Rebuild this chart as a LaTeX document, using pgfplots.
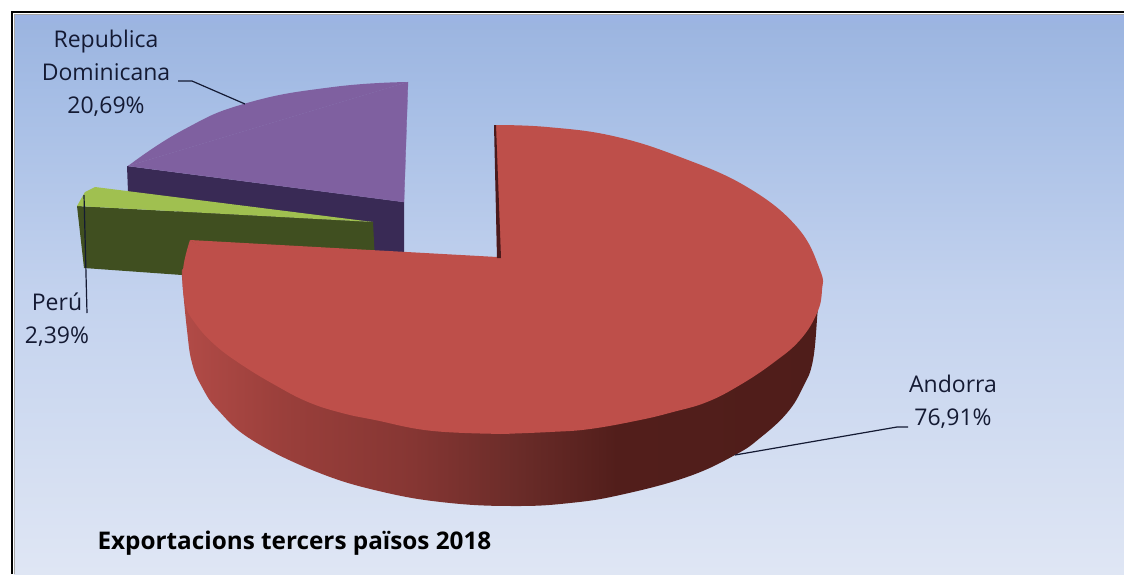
\documentclass[border=0pt]{standalone}
\usepackage{pgfplots}
\pgfplotsset{compat=1.18}
\usepackage{fontspec}
\setmainfont{Open Sans}

\definecolor{inktext}{HTML}{141A33}
\definecolor{redtop}{HTML}{BE4F4A}
\definecolor{redinner}{HTML}{4A1A1C}
\definecolor{purpletop}{HTML}{7F60A0}
\definecolor{purpleside}{HTML}{392A55}
\definecolor{greentop}{HTML}{A0C050}
\definecolor{greenside}{HTML}{404F20}

% the shading box is fitted to the path so stops run 25..75
\pgfdeclareverticalshading{panelbg}{100bp}{
  rgb(0bp)=(0.875,0.902,0.957);
  rgb(25bp)=(0.875,0.902,0.957);
  rgb(50bp)=(0.765,0.824,0.933);
  rgb(68bp)=(0.647,0.741,0.898);
  rgb(74bp)=(0.612,0.710,0.878);
  rgb(75bp)=(0.612,0.702,0.902);
  rgb(100bp)=(0.612,0.702,0.902)}
\pgfdeclarehorizontalshading{redwall}{100bp}{
  rgb(0bp)=(0.698,0.294,0.278);
  rgb(25bp)=(0.698,0.294,0.278);
  rgb(33bp)=(0.604,0.247,0.231);
  rgb(43bp)=(0.525,0.212,0.200);
  rgb(51bp)=(0.420,0.173,0.161);
  rgb(59bp)=(0.322,0.118,0.106);
  rgb(75bp)=(0.310,0.114,0.102);
  rgb(100bp)=(0.310,0.114,0.102)}

\begin{document}
\begin{tikzpicture}
\begin{axis}[
    scale only axis,
    width=1124pt, height=574pt,
    xmin=0, xmax=1124,
    ymin=0, ymax=574,
    y dir=reverse,
    hide axis,
    clip=true
]
% page
\addplot[fill=white, draw=none] coordinates {(0,0)(1124,0)(1124,574)(0,574)} --cycle;
% panel
\addplot[shade, shading=panelbg, draw=none] coordinates {(14,14)(1124,14)(1124,574)(14,574)} --cycle;
\addplot[draw=black, line width=1.6pt] coordinates {(12,574)(12,12)(1124,12)};
\addplot[draw=gray!70, line width=1.2pt] coordinates {(14.5,574)(14.5,14.5)(1124,14.5)};

% Republica Dominicana
\addplot[fill=purpleside, draw=none] coordinates {(127,166)(404,202)(404,252)(300,260)(128,192)} --cycle;
\addplot[fill=purpletop, draw=purpletop, line width=0.3pt] coordinates {(408,82)(128,166)(404,202)} --cycle;
\addplot[fill=purpletop, draw=none, smooth, tension=0.8] coordinates {(408,82)(333,87)(247,103)(183,130)(128,166)};

% Peru
\addplot[fill=greenside, draw=none] coordinates {(77,206)(373,222)(375,262)(182,275)(84,268)} --cycle;
\addplot[fill=greentop, draw=none] coordinates {(95,187)(85,192)(77,206)(373,222)} --cycle;

% Andorra, wall
\addplot[shade, shading=redwall, draw=none, smooth, tension=0.7] coordinates {
  (183,270)(182,277)(187,330)(192,363)(202,387)(218,410)(252,440)(317,472)(383,492)(450,503)(517,506)
  (570,503)(620,495)(687,477)(735,455)(760,438)(787,413)(803,387)(813,360)(818,308)(821,290)};
% Andorra, top
\addplot[fill=redtop, draw=none, smooth, tension=0.7] coordinates {
  (495,125)(547,127)(613,136)(680,157)(747,187)(797,227)(820,270)(822,290)(817,313)(800,340)
  (773,363)(740,385)(707,402)(673,412)(640,420)(590,429)(550,432)(500,434)};
\addplot[fill=redtop, draw=none, smooth, tension=0.7] coordinates {
  (510,434)(433,431)(375,420)(342,413)(308,402)(275,385)(242,365)(215,345)(195,323)(185,303)(183,270)(190,240)};
\addplot[fill=redtop, draw=none] coordinates {(190,240)(497,257)(497,200)(530,200)(530,430)(480,430)} --cycle;
% Andorra, notch wall
\addplot[fill=redinner, draw=none] coordinates {(494,125)(497,258)(501,258)(496,125)} --cycle;

% leader lines
\addplot[draw=inktext, line width=1.2pt] coordinates {(178,81)(192,81)(245,104)};
\addplot[draw=inktext, line width=1.2pt] coordinates {(84,195)(87,313)};
\addplot[draw=inktext, line width=1.2pt] coordinates {(735,455)(897,427)(908,427)};

% labels
\node[text=inktext, align=center, font=\fontsize{23}{33}\selectfont, anchor=center] at (axis cs:106,73) {Republica\\Dominicana\\20,69\%};
\node[text=inktext, align=center, font=\fontsize{23}{33}\selectfont, anchor=center] at (axis cs:57,320) {Perú\\2,39\%};
\node[text=inktext, align=center, font=\fontsize{23}{33}\selectfont, anchor=center] at (axis cs:953,402) {Andorra\\76,91\%};
\node[text=black, font=\fontsize{24.3}{28}\selectfont\bfseries, anchor=west] at (axis cs:94,543) {Exportacions tercers països 2018};
\end{axis}
\end{tikzpicture}
\end{document}
